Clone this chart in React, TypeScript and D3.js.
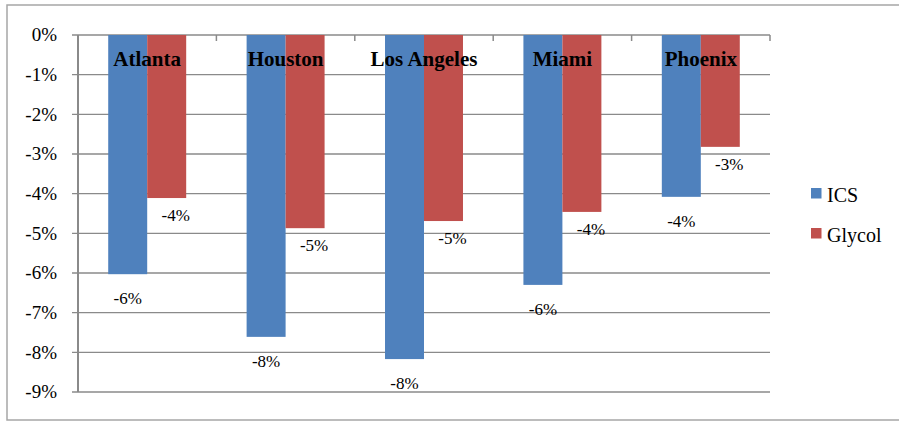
import { useEffect, useRef } from 'react';
import * as d3 from 'd3';

const cities = ['Atlanta', 'Houston', 'Los Angeles', 'Miami', 'Phoenix'];
const seriesNames = ['ICS', 'Glycol'];
const icsValues = [-6.03, -7.61, -8.17, -6.3, -4.08];
const glycolValues = [-4.11, -4.87, -4.69, -4.46, -2.82];
const yTicks = [0, -1, -2, -3, -4, -5, -6, -7, -8, -9];
const colors = ['#4F81BD', '#C0504D'];

const App = () => {
  const svgRef = useRef(null);

  useEffect(() => {
    const svg = d3.select(svgRef.current);
    svg.selectAll('*').remove();

    const width = 899;
    const height = 421;
    const margin = { top: 35, right: 129, bottom: 29, left: 78 };
    const font = '"Liberation Serif", "Times New Roman", serif';
    const gridColor = '#8a8a8a';

    // рамка всей диаграммы
    svg
      .append('rect')
      .attr('x', 7)
      .attr('y', 5)
      .attr('width', width)
      .attr('height', height - 6)
      .attr('fill', 'white')
      .attr('stroke', '#a6a6a6')
      .attr('stroke-width', 1.5);

    const x0 = d3
      .scaleBand()
      .domain(cities)
      .range([margin.left, width - margin.right])
      .paddingInner(0);

    const x1 = d3
      .scaleBand()
      .domain(seriesNames)
      .range([0, x0.bandwidth()])
      .paddingInner(0)
      .paddingOuter(0.775);

    const y = d3
      .scaleLinear()
      .domain([-9, 0])
      .range([height - margin.bottom, margin.top]);

    // сетка
    svg
      .append('g')
      .selectAll('line')
      .data(yTicks)
      .enter()
      .append('line')
      .attr('x1', margin.left - 6)
      .attr('x2', width - margin.right)
      .attr('y1', (d) => y(d))
      .attr('y2', (d) => y(d))
      .attr('stroke', gridColor)
      .attr('stroke-width', 1.3);

    // подписи оси Y
    svg
      .append('g')
      .selectAll('text')
      .data(yTicks)
      .enter()
      .append('text')
      .attr('x', 57)
      .attr('y', (d) => y(d))
      .attr('dy', '0.33em')
      .attr('text-anchor', 'end')
      .attr('font-family', font)
      .attr('font-size', 19)
      .text((d) => `${d}%`);

    // ось Y
    svg
      .append('line')
      .attr('x1', margin.left)
      .attr('x2', margin.left)
      .attr('y1', y(0))
      .attr('y2', y(-9))
      .attr('stroke', gridColor)
      .attr('stroke-width', 2);

    // засечки категорий
    const boundaries = [...cities.map((c) => x0(c)!), width - margin.right];
    svg
      .append('g')
      .selectAll('line')
      .data(boundaries)
      .enter()
      .append('line')
      .attr('x1', (d) => d)
      .attr('x2', (d) => d)
      .attr('y1', y(0))
      .attr('y2', y(0) + 6)
      .attr('stroke', gridColor)
      .attr('stroke-width', 1.5);

    const rows = cities.map((city, i) => ({
      city,
      values: [icsValues[i], glycolValues[i]],
    }));

    // столбцы
    const groups = svg
      .append('g')
      .selectAll('g')
      .data(rows)
      .enter()
      .append('g')
      .attr('transform', (d) => `translate(${x0(d.city)},0)`);

    groups
      .selectAll('rect')
      .data((d) => d.values.map((v, j) => ({ v, s: seriesNames[j], j })))
      .enter()
      .append('rect')
      .attr('x', (d) => x1(d.s)!)
      .attr('y', y(0))
      .attr('width', x1.bandwidth())
      .attr('height', (d) => y(d.v) - y(0))
      .attr('fill', (d) => colors[d.j]);

    // подписи значений
    groups
      .selectAll('text.val')
      .data((d) => d.values.map((v, j) => ({ v, s: seriesNames[j], j })))
      .enter()
      .append('text')
      .attr('class', 'val')
      .attr('x', (d) => x1(d.s)! + x1.bandwidth() / 2 + (d.j === 1 ? 9 : 0))
      .attr('y', (d) => y(d.v) + (d.j === 0 ? 30 : 23))
      .attr('text-anchor', 'middle')
      .attr('font-family', font)
      .attr('font-size', 17)
      .text((d) => `${Math.round(d.v)}%`);

    // названия городов
    svg
      .append('g')
      .selectAll('text')
      .data(cities)
      .enter()
      .append('text')
      .attr('x', (d) => x0(d)! + x0.bandwidth() / 2)
      .attr('y', y(0) + 31)
      .attr('text-anchor', 'middle')
      .attr('font-family', font)
      .attr('font-size', 21)
      .attr('font-weight', 'bold')
      .text((d) => d);

    // легенда
    const legend = svg
      .append('g')
      .selectAll('g')
      .data(seriesNames)
      .enter()
      .append('g')
      .attr('transform', (_, i) => `translate(811,${188 + i * 40})`);

    legend
      .append('rect')
      .attr('width', 10.5)
      .attr('height', 10.5)
      .attr('fill', (_, i) => colors[i]);

    legend
      .append('text')
      .attr('x', 16)
      .attr('y', 13.5)
      .attr('font-family', font)
      .attr('font-size', 20)
      .text((d) => d);
  }, []);

  return (
    <svg
      ref={svgRef}
      width={899}
      height={421}
      style={{ position: 'absolute', left: 0, top: 0 }}
    ></svg>
  );
};

export default App;
